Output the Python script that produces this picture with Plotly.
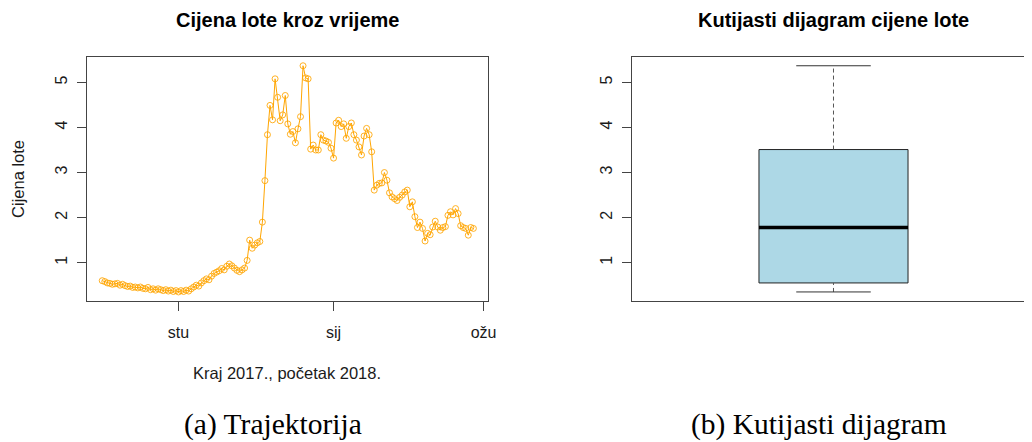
import numpy as np
import pandas as pd
import plotly.graph_objects as go

# ---------------- data ----------------
start_date = "2017-10-02"
prices = [
    0.60, 0.58, 0.55, 0.54, 0.52, 0.53, 0.54, 0.50, 0.52, 0.49,
    0.47, 0.48, 0.45, 0.46, 0.44, 0.46, 0.43, 0.42, 0.45, 0.40,
    0.42, 0.39, 0.42, 0.40, 0.38, 0.40, 0.37, 0.39, 0.36, 0.38,
    0.35, 0.38, 0.36, 0.39, 0.37, 0.42, 0.46, 0.50, 0.48, 0.55,
    0.60, 0.64, 0.62, 0.70, 0.76, 0.79, 0.82, 0.87, 0.84, 0.92,
    0.97, 0.93, 0.88, 0.83, 0.80, 0.84, 0.88, 1.05, 1.50, 1.32,
    1.39, 1.44, 1.47, 1.90, 2.82, 3.84, 4.49, 4.17, 5.08, 4.67,
    4.15, 4.28, 4.71, 4.08, 3.85, 3.91, 3.66, 3.97, 4.24, 5.37,
    5.10, 5.08, 3.52, 3.61, 3.50, 3.50, 3.84, 3.72, 3.70, 3.67,
    3.54, 3.32, 4.10, 4.16, 4.02, 4.08, 3.76, 4.02, 4.10, 3.84,
    3.72, 3.57, 3.39, 3.81, 3.98, 3.84, 3.46, 2.61, 2.72, 2.76,
    2.77, 3.00, 2.83, 2.55, 2.46, 2.42, 2.38, 2.45, 2.50, 2.57,
    2.61, 2.24, 2.35, 2.02, 1.78, 1.90, 1.76, 1.48, 1.65, 1.62,
    1.79, 1.92, 1.79, 1.72, 1.78, 1.80, 2.05, 2.13, 2.06, 2.20,
    2.09, 1.82, 1.78, 1.76, 1.61, 1.78, 1.76,
]
x_tick_vals = ["2017-11-01", "2018-01-01", "2018-03-01"]
x_tick_text = ["stu", "sij", "ožu"]
y_tick_vals = [1, 2, 3, 4, 5]

title_left = "Cijena lote kroz vrijeme"
title_right = "Kutijasti dijagram cijene lote"
x_title = "Kraj 2017., početak 2018."
y_title = "Cijena lote"
caption_left = "(a) Trajektorija"
caption_right = "(b) Kutijasti dijagram"

# ---------------- derived ----------------
dates = pd.date_range(start_date, periods=len(prices), freq="D")
v = np.array(prices)


def fivenum(a):
    s = np.sort(a)
    n = len(s)
    n4 = np.floor((n + 3) / 2) / 2
    d = np.array([1, n4, (n + 1) / 2, n + 1 - n4, n])
    return 0.5 * (s[np.floor(d).astype(int) - 1] + s[np.ceil(d).astype(int) - 1])


fmin, q1, med, q3, fmax = fivenum(v)
iqr = q3 - q1
upper = v[v <= q3 + 1.5 * iqr].max()
lower = v[v >= q1 - 1.5 * iqr].min()

pad_y = 0.04 * (v.max() - v.min())
y_range = [v.min() - pad_y, v.max() + pad_y]
span = dates[-1] - dates[0]
x_range = [dates[0] - 0.04 * span, dates[-1] + 0.04 * span]

# The page body keeps an 8px margin; the figure fills the rest of the window.
OFF = 8
W, H = 1032 - OFF, 442 - OFF
px = lambda p: (p - OFF) / W
py = lambda p: 1 - (p - OFF) / H

ORANGE = "#FFA500"
FRAME = "#444444"
TXT = "#1a1a1a"
SANS = "Liberation Sans, Arial, sans-serif"
SERIF = "Liberation Serif, Times New Roman, serif"

fig = go.Figure()

# time series
fig.add_trace(go.Scatter(
    x=dates, y=prices, mode="lines+markers",
    line=dict(color=ORANGE, width=1),
    marker=dict(symbol="circle-open", size=6, color=ORANGE,
                line=dict(color=ORANGE, width=1), opacity=0.85),
    xaxis="x", yaxis="y", showlegend=False, hoverinfo="skip",
))

# box plot (built from the computed statistics)
bc, bw = 1.0, 0.37
fig.add_trace(go.Scatter(
    x=[bc - bw / 2, bc + bw / 2, bc + bw / 2, bc - bw / 2, bc - bw / 2],
    y=[q1, q1, q3, q3, q1], mode="lines", fill="toself",
    fillcolor="#ADD8E6", line=dict(color="#222222", width=1),
    xaxis="x2", yaxis="y2", showlegend=False, hoverinfo="skip",
))
fig.add_trace(go.Scatter(
    x=[bc - bw / 2, bc + bw / 2], y=[med, med], mode="lines",
    line=dict(color="black", width=3.5),
    xaxis="x2", yaxis="y2", showlegend=False, hoverinfo="skip",
))
for a, b in [(q3, upper), (lower, q1)]:
    fig.add_trace(go.Scatter(
        x=[bc, bc], y=[a, b], mode="lines",
        line=dict(color="#555555", width=1, dash="4px,3px"),
        xaxis="x2", yaxis="y2", showlegend=False, hoverinfo="skip",
    ))
for c in [upper, lower]:
    fig.add_trace(go.Scatter(
        x=[bc - bw / 4, bc + bw / 4], y=[c, c], mode="lines",
        line=dict(color="#333333", width=1),
        xaxis="x2", yaxis="y2", showlegend=False, hoverinfo="skip",
    ))

axis_font = dict(family=SANS, size=16, color=TXT)
right_left = 637
right_w = 1032 - right_left

fig.update_layout(
    width=W, height=H, autosize=False,
    margin=dict(l=0, r=0, t=0, b=0),
    paper_bgcolor="white", plot_bgcolor="white",
    xaxis=dict(
        domain=[px(88), px(492)], anchor="y", type="date",
        range=x_range, tickvals=x_tick_vals, ticktext=x_tick_text,
        showgrid=False, zeroline=False, showline=True, mirror=True,
        linecolor=FRAME, linewidth=1, ticks="outside", ticklen=9,
        tickcolor=FRAME, tickfont=axis_font, ticklabelstandoff=8,
    ),
    yaxis=dict(
        domain=[py(301), py(56.7)], anchor="x", range=y_range,
        tickvals=y_tick_vals, tickangle=-90,
        showgrid=False, zeroline=False, showline=True, mirror=True,
        linecolor=FRAME, linewidth=1, ticks="outside", ticklen=9,
        tickcolor=FRAME, tickfont=axis_font, ticklabelstandoff=4,
    ),
    xaxis2=dict(
        domain=[px(right_left), 1.0], anchor="y2",
        range=[0.5, 0.5 + right_w / 406],
        showticklabels=False, ticks="",
        showgrid=False, zeroline=False, showline=True, mirror=True,
        linecolor=FRAME, linewidth=1,
    ),
    yaxis2=dict(
        domain=[py(301), py(56.7)], anchor="x2", range=y_range,
        tickvals=y_tick_vals, tickangle=-90,
        showgrid=False, zeroline=False, showline=True, mirror=False,
        linecolor=FRAME, linewidth=1, ticks="outside", ticklen=9,
        tickcolor=FRAME, tickfont=axis_font, ticklabelstandoff=4,
    ),
)

ann = [
    dict(text="<b>" + title_left + "</b>", x=px(290), y=py(20.5),
         font=dict(family=SANS, size=20, color="black")),
    dict(text="<b>" + title_right + "</b>", x=px(840), y=py(20.5),
         font=dict(family=SANS, size=20, color="black")),
    dict(text=x_title, x=px(289), y=py(373),
         font=dict(family=SANS, size=16.5, color=TXT)),
    dict(text=y_title, x=px(18), y=py(179), textangle=-90,
         font=dict(family=SANS, size=16.5, color=TXT)),
    dict(text=caption_left, x=px(275), y=py(424),
         font=dict(family=SERIF, size=29.5, color="black")),
    dict(text=caption_right, x=px(825), y=py(424),
         font=dict(family=SERIF, size=29.5, color="black")),
]
for a in ann:
    fig.add_annotation(xref="paper", yref="paper", showarrow=False,
                       xanchor="center", yanchor="middle", **a)

fig.write_html("out.html", config={"displayModeBar": False})
